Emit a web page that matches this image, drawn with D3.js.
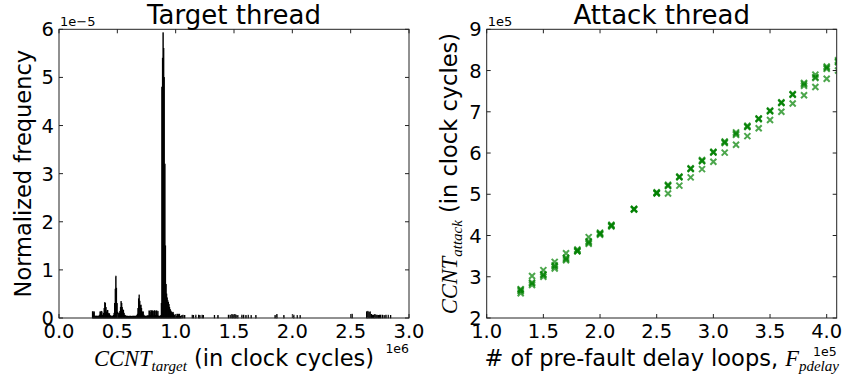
<!DOCTYPE html>
<meta charset="utf-8">
<script src="https://cdn.jsdelivr.net/npm/d3@7"></script>
<style>
  body { margin: 0; background: #fff; }
  text { font-family: "DejaVu Sans", sans-serif; fill: #000; }
  .math { font-family: "Liberation Serif", "DejaVu Serif", serif; font-style: italic; }
</style>
<body>
<script>

var width = 843
var height = 379

// left panel: histogram of target thread CCNT (x in 1e6 cycles, y in 1e-5)
var binWidth = 0.005
var binStart = [0.285, 0.290, 0.295, 0.300, 0.305, 0.310, 0.315, 0.320, 0.325, 0.330, 0.335, 0.340, 0.345,
  0.350, 0.355, 0.360, 0.365, 0.370, 0.375, 0.380, 0.385, 0.390, 0.395, 0.400, 0.405, 0.410, 0.415,
  0.420, 0.425, 0.430, 0.435, 0.440, 0.445, 0.450, 0.455, 0.460, 0.465, 0.470, 0.475, 0.480, 0.485,
  0.490, 0.495, 0.500, 0.505, 0.510, 0.515, 0.520, 0.525, 0.530, 0.535, 0.540, 0.545, 0.550, 0.555,
  0.560, 0.565, 0.570, 0.575, 0.580, 0.585, 0.590, 0.595, 0.600, 0.605, 0.610, 0.615, 0.620, 0.625,
  0.630, 0.635, 0.640, 0.645, 0.650, 0.655, 0.660, 0.665, 0.670, 0.675, 0.680, 0.685, 0.690, 0.695,
  0.700, 0.705, 0.710, 0.715, 0.720, 0.725, 0.730, 0.735, 0.740, 0.745, 0.750, 0.755, 0.760, 0.765,
  0.770, 0.775, 0.780, 0.785, 0.790, 0.795, 0.800, 0.805, 0.810, 0.815, 0.820, 0.825, 0.830, 0.835,
  0.840, 0.845, 0.850, 0.855, 0.860, 0.865, 0.870, 0.875, 0.880, 0.885, 0.890, 0.895, 0.900, 0.905,
  0.910, 0.915, 0.920, 0.925, 0.930, 0.935, 0.940, 0.945, 0.950, 0.955, 0.960, 0.965, 0.970, 0.975,
  0.980, 0.985, 0.990, 0.995, 1.000, 1.005, 1.010, 1.015, 1.020, 1.025, 1.030, 1.035, 1.040,
  1.050, 1.060, 1.075, 1.140, 1.150, 1.170, 1.195, 1.205, 1.225, 1.235, 1.330, 1.360, 1.450, 1.465,
  1.480, 1.490, 1.505, 1.515, 1.530, 1.565, 1.580, 1.600, 1.620, 1.645, 1.685, 1.850, 1.865, 1.925,
  2.010, 2.040, 2.065, 2.510, 2.635, 2.645, 2.655, 2.665, 2.675, 2.685, 2.695, 2.705, 2.715, 2.725,
  2.735, 2.745, 2.755, 2.770, 2.785, 2.800, 2.820, 2.840]
var binFreq = [0.13, 0.13, 0.10, 0.13, 0.04, 0.04, 0.03, 0.04, 0.04, 0.03, 0.04, 0.04, 0.06,
  0.13, 0.12, 0.14, 0.13, 0.06, 0.05, 0.10, 0.20, 0.32, 0.30, 0.22, 0.12, 0.15, 0.16,
  0.10, 0.08, 0.09, 0.05, 0.04, 0.03, 0.04, 0.04, 0.03, 0.05, 0.10, 0.30, 0.60, 0.87,
  0.62, 0.30, 0.12, 0.10, 0.08, 0.10, 0.14, 0.22, 0.34, 0.30, 0.22, 0.17, 0.16, 0.10,
  0.06, 0.05, 0.04, 0.04, 0.03, 0.04, 0.03, 0.03, 0.04, 0.03, 0.04, 0.03, 0.03, 0.04,
  0.03, 0.04, 0.03, 0.04, 0.03, 0.04, 0.03, 0.05, 0.08, 0.20, 0.40, 0.48, 0.35, 0.26,
  0.27, 0.20, 0.13, 0.12, 0.13, 0.06, 0.04, 0.04, 0.03, 0.04, 0.04, 0.03, 0.05, 0.04,
  0.15, 0.14, 0.06, 0.15, 0.15, 0.05, 0.15, 0.14, 0.06, 0.15, 0.15, 0.05, 0.14, 0.15,
  0.06, 0.14, 0.04, 0.04, 0.03, 0.04, 0.05, 0.30, 4.80, 5.40, 5.93, 5.60, 5.00, 3.20,
  1.50, 0.70, 0.50, 0.42, 0.36, 0.32, 0.28, 0.22, 0.18, 0.15, 0.13, 0.12, 0.10, 0.12,
  0.08, 0.06, 0.05, 0.04, 0.04, 0.03, 0.08, 0.07, 0.08, 0.05, 0.08, 0.04, 0.03,
  0.05, 0.06, 0.05, 0.06, 0.05, 0.06, 0.06, 0.05, 0.06, 0.05, 0.05, 0.05, 0.06, 0.06,
  0.07, 0.06, 0.07, 0.06, 0.05, 0.06, 0.06, 0.05, 0.06, 0.05, 0.05, 0.05, 0.07, 0.05,
  0.06, 0.05, 0.05, 0.08, 0.13, 0.14, 0.12, 0.13, 0.07, 0.06, 0.06, 0.07, 0.06, 0.06,
  0.05, 0.06, 0.06, 0.06, 0.05, 0.06, 0.06, 0.05]
var histXTicks = [0.0, 0.5, 1.0, 1.5, 2.0, 2.5, 3.0]
var histYTicks = [0, 1, 2, 3, 4, 5, 6]

// right panel: attack thread CCNT vs pre-fault delay loops (x in 1e5, y in 1e5)
var delayLoops = [1.3, 1.4, 1.5, 1.6, 1.7, 1.8, 1.9, 2.0, 2.1, 2.3, 2.5, 2.6, 2.7, 2.8,
  2.9, 3.0, 3.1, 3.2, 3.3, 3.4, 3.5, 3.6, 3.7, 3.8, 3.9, 4.0, 4.1]
var runA = [2.60, 2.80, 3.00, 3.20, 3.40, 3.62, 3.80, 4.02, 4.22, 4.63, 5.02, 5.02, 5.21, 5.41,
  5.61, 5.79, 6.01, 6.20, 6.41, 6.60, 6.80, 7.00, 7.20, 7.40, 7.60, 7.80, 8.00]
var runB = [2.65, 2.84, 3.04, 3.25, 3.43, 3.64, 3.83, 4.04, 4.24, 4.64, 5.03, 5.21, 5.41, 5.62,
  5.81, 6.01, 6.24, 6.44, 6.63, 6.82, 7.02, 7.22, 7.41, 7.63, 7.82, 8.04, 8.22]
var runC = [2.68, 2.86, 3.06, 3.28, 3.46, 3.66, 3.86, 4.07, 4.26, 4.65, 5.05, 5.23, 5.43, 5.63,
  5.83, 6.03, 6.28, 6.47, 6.66, 6.84, 7.03, 7.23, 7.43, 7.67, 7.84, 8.07, 8.25]
var runD = [2.70, 3.02, 3.16, 3.36, 3.57, 3.62, 3.96, 4.05, 4.24, 4.63, 5.03, 5.20, 5.42, 5.61,
  5.80, 6.02, 6.26, 6.50, 6.64, 6.83, 7.01, 7.21, 7.42, 7.70, 7.90, 8.10, 8.20]
var scatXTicks = [1.0, 1.5, 2.0, 2.5, 3.0, 3.5, 4.0]
var scatYTicks = [2, 3, 4, 5, 6, 7, 8, 9]

var top_ = 29.3, bottom_ = 318
var leftL = 59, rightL = 409
var leftR = 486.7, rightR = 836.7

var svg = d3.select("body").append("svg")
  .attr("width", width).attr("height", height)
  .style("display", "block")

var hx = d3.scaleLinear().domain([0, 3]).range([leftL, rightL])
var hy = d3.scaleLinear().domain([0, 6]).range([bottom_, top_])
var sx = d3.scaleLinear().domain([1.0, 4.0]).range([leftR, 826.7])
var sy = d3.scaleLinear().domain([2, 9]).range([bottom_, top_])

svg.append("defs").append("clipPath").attr("id", "clipR")
  .append("rect").attr("x", leftR).attr("y", top_)
  .attr("width", rightR - leftR).attr("height", bottom_ - top_)

// histogram bars
svg.append("g").selectAll("rect")
  .data(binStart)
  .enter().append("rect")
  .attr("x", function(d) { return hx(d) })
  .attr("width", function(d) { return hx(d + binWidth) - hx(d) })
  .attr("y", function(d, i) { return hy(binFreq[i]) })
  .attr("height", function(d, i) { return hy(0) - hy(binFreq[i]) })
  .attr("fill", "#000")
  .attr("stroke", "#000")
  .attr("stroke-width", 0.7)

// scatter crosses
var runs = [runA, runB, runC, runD]
var gs = svg.append("g").attr("clip-path", "url(#clipR)")
runs.forEach(function(run) {
  gs.append("g").selectAll("path")
    .data(run)
    .enter().append("path")
    .attr("d", function(d, i) {
      var cx = sx(delayLoops[i]), cy = sy(d), r = 3
      return "M" + (cx - r) + "," + (cy - r) + "L" + (cx + r) + "," + (cy + r) +
             "M" + (cx - r) + "," + (cy + r) + "L" + (cx + r) + "," + (cy - r)
    })
    .attr("stroke", "#008000")
    .attr("stroke-width", 2)
    .attr("stroke-opacity", 0.7)
    .attr("fill", "none")
})

// frames + inward ticks on all four sides (classic matplotlib)
function frame(x, y, xt, yt) {
  var g = svg.append("g")
  var x0 = x.range()[0], x1 = x.range()[1]
  var left = Math.min(x0, x1), right = x === sx ? rightR : x1
  g.append("rect").attr("x", left).attr("y", top_)
    .attr("width", right - left).attr("height", bottom_ - top_)
    .attr("fill", "none").attr("stroke", "#222").attr("stroke-width", 1)
  xt.forEach(function(t) {
    g.append("line").attr("x1", x(t)).attr("x2", x(t)).attr("y1", bottom_).attr("y2", bottom_ - 4).attr("stroke", "#222")
    g.append("line").attr("x1", x(t)).attr("x2", x(t)).attr("y1", top_).attr("y2", top_ + 4).attr("stroke", "#222")
    g.append("text").attr("x", x(t)).attr("y", 337.5)
      .attr("text-anchor", "middle").style("font-size", "19.5px").text(t.toFixed(1))
  })
  yt.forEach(function(t) {
    g.append("line").attr("x1", left).attr("x2", left + 4).attr("y1", y(t)).attr("y2", y(t)).attr("stroke", "#222")
    g.append("line").attr("x1", right).attr("x2", right - 4).attr("y1", y(t)).attr("y2", y(t)).attr("stroke", "#222")
    g.append("text").attr("x", left - 5).attr("y", y(t) + 7)
      .attr("text-anchor", "end").style("font-size", "19.5px").text(t)
  })
}
frame(hx, hy, histXTicks, histYTicks)
frame(sx, sy, scatXTicks, scatYTicks)

// titles
svg.append("text").attr("x", (leftL + rightL) / 2).attr("y", 24)
  .attr("text-anchor", "middle").style("font-size", "26px").text("Target thread")
svg.append("text").attr("x", (leftR + rightR) / 2).attr("y", 24)
  .attr("text-anchor", "middle").style("font-size", "26px").text("Attack thread")

// offset texts
svg.append("text").attr("x", leftL + 1).attr("y", 26).style("font-size", "13px").text("1e\u22125")
svg.append("text").attr("x", leftR + 1).attr("y", 26).style("font-size", "13px").text("1e5")
svg.append("text").attr("x", rightL).attr("y", 353).attr("text-anchor", "end").style("font-size", "12.5px").text("1e6")
svg.append("text").attr("x", rightR).attr("y", 356).attr("text-anchor", "end").style("font-size", "12.5px").text("1e5")

// y labels
svg.append("text")
  .attr("transform", "translate(31," + ((top_ + bottom_) / 2) + ") rotate(-90)")
  .attr("text-anchor", "middle").style("font-size", "22.5px").text("Normalized frequency")

var yl = svg.append("text")
  .attr("transform", "translate(457," + ((top_ + bottom_) / 2) + ") rotate(-90)")
  .attr("text-anchor", "middle").style("font-size", "22.5px")
yl.append("tspan").attr("class", "math").text("CCNT")
yl.append("tspan").attr("class", "math").attr("dy", 5).style("font-size", "15px").text("attack")
yl.append("tspan").attr("dy", -5).text(" (in clock cycles)")

// x labels
var xl = svg.append("text").attr("x", (leftL + rightL) / 2).attr("y", 366)
  .attr("text-anchor", "middle").style("font-size", "22.5px")
xl.append("tspan").attr("class", "math").text("CCNT")
xl.append("tspan").attr("class", "math").attr("dy", 5).style("font-size", "15px").text("target")
xl.append("tspan").attr("dy", -5).text(" (in clock cycles)")

var xr = svg.append("text").attr("x", (leftR + rightR) / 2).attr("y", 366)
  .attr("text-anchor", "middle").style("font-size", "22.5px")
xr.append("tspan").text("# of pre-fault delay loops, ")
xr.append("tspan").attr("class", "math").text("F")
xr.append("tspan").attr("class", "math").attr("dy", 5).style("font-size", "15px").text("pdelay")

</script>
</body>
